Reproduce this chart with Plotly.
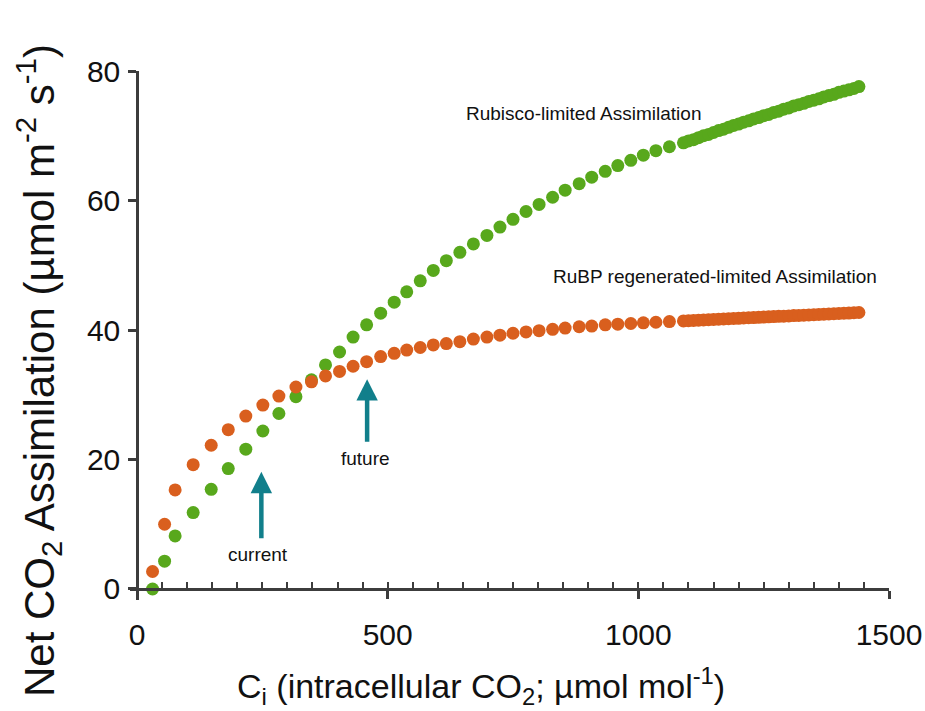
import plotly.graph_objects as go

# Intercellular CO2 (Ci, umol mol-1)
ci = [31, 55, 76, 112, 148, 182, 217, 251, 283, 317, 348, 376, 404, 431, 458,
      486, 513, 538, 565, 591, 617, 644,
      671, 698, 724, 750, 776, 802, 829, 854, 882, 907, 934, 959, 985, 1010, 1035, 1062,
      1090, 1100, 1110, 1120, 1130, 1140, 1150, 1160, 1170, 1180, 1190, 1200,
      1210, 1220, 1230, 1240, 1250, 1260, 1270, 1280, 1290, 1300, 1310, 1320,
      1330, 1340, 1350, 1360, 1370, 1380, 1390, 1400, 1410, 1420, 1430, 1440]

# Rubisco-limited assimilation
rubisco = [0.0, 4.3, 8.2, 11.8, 15.4, 18.6, 21.6, 24.4, 27.1, 29.7, 32.3, 34.6, 36.6, 38.9, 40.8,
           42.6, 44.3, 45.9, 47.6, 49.2, 50.7, 52.0,
           53.3, 54.6, 55.9, 57.1, 58.3, 59.4, 60.5, 61.6, 62.6, 63.6, 64.5, 65.4, 66.2, 67.0, 67.7, 68.3,
           68.9, 69.2, 69.4, 69.7, 70.0, 70.2, 70.5, 70.8, 71.0, 71.3, 71.6, 71.8,
           72.1, 72.3, 72.6, 72.8, 73.1, 73.3, 73.6, 73.8, 74.1, 74.3, 74.6, 74.8,
           75.0, 75.3, 75.5, 75.7, 76.0, 76.2, 76.4, 76.7, 76.9, 77.1, 77.3, 77.6]

# RuBP regeneration-limited assimilation
rubp = [2.7, 10.0, 15.3, 19.2, 22.2, 24.6, 26.7, 28.4, 29.8, 31.2, 32.0, 32.9, 33.6, 34.4, 35.1,
        35.9, 36.4, 36.9, 37.3, 37.7, 37.9, 38.2,
        38.6, 38.9, 39.2, 39.5, 39.7, 39.9, 40.1, 40.3, 40.5, 40.6, 40.8, 40.9, 41.0, 41.1, 41.2, 41.3,
        41.40, 41.44, 41.48, 41.51, 41.55, 41.59, 41.63, 41.66, 41.70, 41.74, 41.78, 41.81,
        41.85, 41.89, 41.92, 41.96, 42.00, 42.03, 42.07, 42.11, 42.14, 42.18, 42.22, 42.25,
        42.29, 42.33, 42.36, 42.40, 42.44, 42.47, 42.51, 42.55, 42.59, 42.62, 42.66, 42.70]

x_ticks = [0, 500, 1000, 1500]
y_ticks = [0, 20, 40, 60, 80]

GREEN = "#58a81c"
ORANGE = "#d95f1e"
TEAL = "#117f8b"
AXIS = "#3c3c3c"
TXT = "#111111"
FONT = "Liberation Sans, Arial, sans-serif"

XR = [-14, 1500]
YR = [-1.7, 80]
xpos = (0 - XR[0]) / (XR[1] - XR[0])
ypos = (0 - YR[0]) / (YR[1] - YR[0])

ML, MR, MT, MB = 130, 36, 71, 111
W, H = 925, 711
PW = W - ML - MR
PH = H - MT - MB


def px_to_paper(px, py):
    # reference-image pixel -> paper coords
    return ((px - ML) / PW, (H - MB - py) / PH)


fig = go.Figure()
fig.add_trace(go.Scatter(x=ci, y=rubisco, mode="markers", name="Rubisco-limited",
                         marker=dict(size=13, color=GREEN, line=dict(width=0)),
                         xaxis="x", yaxis="y", showlegend=False, hoverinfo="skip"))
fig.add_trace(go.Scatter(x=ci, y=rubp, mode="markers", name="RuBP-limited",
                         marker=dict(size=13, color=ORANGE, line=dict(width=0)),
                         xaxis="x2", yaxis="y", showlegend=False, hoverinfo="skip"))

fig.update_layout(
    width=W, height=H,
    margin=dict(l=ML, r=MR, t=MT, b=MB, autoexpand=False),
    paper_bgcolor="white", plot_bgcolor="white",
    font=dict(family=FONT, color=TXT),
    xaxis=dict(range=XR, anchor="free", position=ypos, showline=True, linecolor=AXIS,
               linewidth=2.5, ticks="outside", ticklen=8, tickwidth=2.5, tickcolor=AXIS,
               tickvals=x_ticks, ticktext=[str(v) for v in x_ticks],
               tickfont=dict(family=FONT, size=30, color=TXT), automargin=False,
               showgrid=False, zeroline=False, ticklabelstandoff=10),
    xaxis2=dict(range=XR, overlaying="x", anchor="free", position=ypos, showline=False,
                ticks="inside", ticklen=7, tickwidth=2.2, tickcolor=AXIS, automargin=False,
                tick0=0, dtick=50, showticklabels=False, showgrid=False, zeroline=False),
    yaxis=dict(range=YR, anchor="free", position=xpos, showline=True, linecolor=AXIS,
               linewidth=2.5, ticks="outside", ticklen=8, tickwidth=2.5, tickcolor=AXIS,
               tickvals=y_ticks, ticktext=[str(v) for v in y_ticks],
               tickfont=dict(family=FONT, size=30, color=TXT), automargin=False,
               showgrid=False, zeroline=False, ticklabelstandoff=2),
)

xt_x, xt_y = px_to_paper(481, 686)
yt_x, yt_y = px_to_paper(38, 371)

annotations = [
    dict(xref="paper", yref="paper", x=xt_x, y=xt_y,
         text="C<sub>i</sub> (intracellular CO<sub>2</sub>; \u00b5mol mol<sup>-1</sup>)",
         showarrow=False, font=dict(family=FONT, size=34, color=TXT),
         xanchor="center", yanchor="middle"),
    dict(xref="paper", yref="paper", x=yt_x, y=yt_y,
         text="Net CO<sub>2</sub> Assimilation (\u00b5mol m<sup>-2</sup> s<sup>-1</sup>)",
         showarrow=False, textangle=-90, font=dict(family=FONT, size=42, color=TXT),
         xanchor="center", yanchor="middle"),
    dict(x=890, y=73.5, xref="x", yref="y", text="Rubisco-limited Assimilation",
         showarrow=False, font=dict(family=FONT, size=19, color=TXT)),
    dict(x=1153, y=48.3, xref="x", yref="y", text="RuBP regenerated-limited Assimilation",
         showarrow=False, font=dict(family=FONT, size=19, color=TXT)),
    dict(x=241, y=5.4, xref="x", yref="y", text="current",
         showarrow=False, font=dict(family=FONT, size=19, color=TXT)),
    dict(x=455, y=20.2, xref="x", yref="y", text="future",
         showarrow=False, font=dict(family=FONT, size=19, color=TXT)),
    dict(x=248, y=18.1, ax=248, ay=7.6, xref="x", yref="y", axref="x", ayref="y",
         text="", showarrow=True, arrowhead=2, arrowsize=0.95, arrowwidth=4.5,
         arrowcolor=TEAL, standoff=0, startstandoff=0),
    dict(x=459, y=32.4, ax=459, ay=22.5, xref="x", yref="y", axref="x", ayref="y",
         text="", showarrow=True, arrowhead=2, arrowsize=0.95, arrowwidth=4.5,
         arrowcolor=TEAL, standoff=0, startstandoff=0),
]
fig.update_layout(annotations=annotations)

fig.write_html("out.html", config={"displayModeBar": False},
               post_script="document.body.style.margin='0px';document.body.style.overflow='hidden';")
